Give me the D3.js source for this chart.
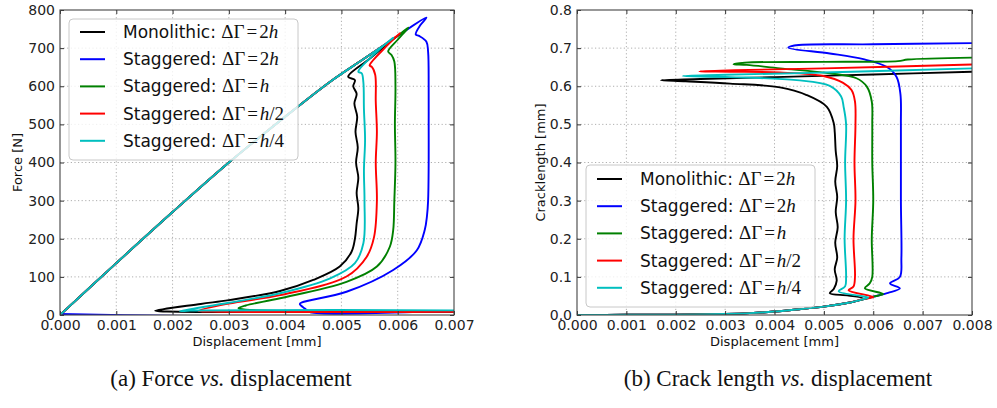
<!DOCTYPE html>
<html><head><meta charset="utf-8">
<script src="https://cdn.jsdelivr.net/npm/d3@7/dist/d3.min.js"></script>
<style>body{margin:0;background:#fff}svg{display:block}</style>
</head><body>
<svg id="c" width="997" height="408"></svg>
<script>
// ---------- data ----------
const seriesLabels = ["Monolithic:", "Staggered:", "Staggered:", "Staggered:", "Staggered:"];
const seriesMath = ["2h", "2h", "h", "h/2", "h/4"];
const seriesColors = ["#000000", "#0000ff", "#008000", "#ff0000", "#00bfbf"];

const forceXTicks = [0, 0.001, 0.002, 0.003, 0.004, 0.005, 0.006, 0.007];
const forceYTicks = [0, 100, 200, 300, 400, 500, 600, 700, 800];
const crackXTicks = [0, 0.001, 0.002, 0.003, 0.004, 0.005, 0.006, 0.007, 0.008];
const crackYTicks = [0, 0.1, 0.2, 0.3, 0.4, 0.5, 0.6, 0.7, 0.8];

const loadPath = [[0,0],[0.001,136],[0.002,270],[0.003,400],[0.004,520],[0.0048,612],[0.0054,672]];

const forceMono = loadPath.concat([[0.00586,717],[0.0055,672],[0.00512,625],[0.00524,616],[0.00521,600],[0.00527,580],[0.00523,555],[0.00528,520],[0.00525,480],[0.00529,440],[0.00526,400],[0.0053,360],[0.00527,320],[0.0053,280],[0.00527,240],[0.00524,200],[0.00518,166],[0.00497,127],[0.0045,92],[0.00391,63],[0.003,39],[0.0025,29],[0.00169,11],[0.0019,9],[0.0075,9]]);
const forceStag2h = loadPath.concat([[0.006,732],[0.00651,780],[0.0064,760],[0.00632,736],[0.00638,732],[0.00651,717],[0.00654,690],[0.00655,600],[0.00655,500],[0.00655,400],[0.00654,300],[0.00652,260],[0.00648,223],[0.00634,170],[0.00592,118],[0.00509,61],[0.0043,33],[0.00426,29],[0.00435,17],[0.00445,7],[0.0075,7],[0.0075,3],[0,3]]);
const forceStagH = loadPath.concat([[0.006,732],[0.00619,754],[0.006,722],[0.00583,691],[0.00589,682],[0.00594,665],[0.00596,600],[0.00595,500],[0.00596,400],[0.00594,300],[0.00592,223],[0.00586,179],[0.00563,127],[0.00509,87],[0.00391,44],[0.0033,25],[0.00317,18],[0.0033,14],[0.0075,11]]);
const forceStagH2 = loadPath.concat([[0.006,734],[0.00604,739],[0.0058,705],[0.0055,654],[0.00554,651],[0.0056,630],[0.00561,560],[0.00563,480],[0.00561,400],[0.00563,300],[0.00558,205],[0.00545,153],[0.00509,101],[0.00391,52],[0.003,30],[0.00246,11],[0.0027,9],[0.0075,9]]);
const forceStagH4 = loadPath.concat([[0.0058,713],[0.00592,727],[0.0057,700],[0.0053,638],[0.00536,634],[0.00539,610],[0.0054,540],[0.00542,460],[0.0054,380],[0.00541,300],[0.00539,188],[0.00524,136],[0.0048,96],[0.00391,57],[0.003,32],[0.00213,10],[0.0024,12],[0.0075,12]]);

const crackBase = [[0,0],[0.001,0.0005],[0.002,0.001],[0.003,0.003],[0.0035,0.005],[0.004,0.009],[0.0045,0.015],[0.005,0.022],[0.0055,0.032]];

const crackMono = crackBase.concat([[0.0058,0.043],[0.0055,0.051],[0.00512,0.057],[0.0052,0.068],[0.00526,0.09],[0.00522,0.12],[0.00527,0.15],[0.00523,0.19],[0.00528,0.23],[0.00524,0.27],[0.00527,0.31],[0.00523,0.35],[0.00527,0.39],[0.00524,0.43],[0.00522,0.48],[0.0052,0.503],[0.00506,0.546],[0.00465,0.577],[0.00411,0.597],[0.0031,0.607],[0.0022,0.613],[0.0017,0.616],[0.0025,0.619],[0.004,0.624],[0.006,0.631],[0.008,0.638]]);
const crackStag2h = crackBase.concat([[0.006,0.048],[0.0063,0.058],[0.00654,0.07],[0.00634,0.083],[0.00654,0.1],[0.00657,0.15],[0.00656,0.3],[0.00656,0.5],[0.00655,0.58],[0.00647,0.625],[0.00627,0.651],[0.0058,0.671],[0.00512,0.686],[0.00428,0.701],[0.0044,0.707],[0.006,0.71],[0.008,0.713]]);
const crackStagH = crackBase.concat([[0.006,0.048],[0.0062,0.055],[0.00583,0.07],[0.00593,0.083],[0.00598,0.1],[0.00597,0.2],[0.006,0.3],[0.00598,0.4],[0.00598,0.5],[0.00597,0.56],[0.00587,0.599],[0.00566,0.621],[0.00512,0.634],[0.00411,0.647],[0.00344,0.656],[0.00317,0.658],[0.0034,0.662],[0.005,0.664],[0.0065,0.666],[0.0067,0.67],[0.008,0.675]]);
const crackStagH2 = crackBase.concat([[0.0058,0.042],[0.006,0.047],[0.0055,0.065],[0.0056,0.075],[0.00563,0.1],[0.0056,0.2],[0.00564,0.3],[0.00562,0.4],[0.00564,0.5],[0.00563,0.56],[0.00556,0.59],[0.00539,0.609],[0.00499,0.627],[0.00411,0.636],[0.0031,0.638],[0.00248,0.639],[0.0032,0.642],[0.005,0.647],[0.008,0.657]]);
const crackStagH4 = crackBase.concat([[0.0058,0.042],[0.0059,0.046],[0.0053,0.062],[0.00543,0.075],[0.00545,0.1],[0.00542,0.2],[0.00545,0.3],[0.00543,0.4],[0.00545,0.5],[0.0054,0.546],[0.00535,0.573],[0.00512,0.601],[0.00445,0.616],[0.0031,0.624],[0.00214,0.627],[0.003,0.63],[0.005,0.636],[0.008,0.647]]);

const forceSeries = [forceMono, forceStag2h, forceStagH, forceStagH2, forceStagH4];
const crackSeries = [crackMono, crackStag2h, crackStagH, crackStagH2, crackStagH4];

// ---------- drawing ----------
const svg = d3.select("#c");
const SANS = "DejaVu Sans, Bitstream Vera Sans, sans-serif";
const SERIF = "Liberation Serif, Times New Roman, serif";

function panel(cfg) {
  const {id, left, right, top, bottom, xDomain, yDomain, xTicks, yTicks, xFmt, yFmt, data, xLabel, yLabel, yLabelX, legend, caption, captionX} = cfg;
  const x = d3.scaleLinear().domain(xDomain).range([left, right]);
  const y = d3.scaleLinear().domain(yDomain).range([bottom, top]);
  const g = svg.append("g");

  // grid
  g.append("g").selectAll("line").data(xTicks.slice(1, -1)).join("line")
    .attr("x1", d => x(d)).attr("x2", d => x(d)).attr("y1", top).attr("y2", bottom)
    .attr("stroke", "#9a9a9a").attr("stroke-width", 0.8).attr("stroke-dasharray", "1.2,2.4");
  g.append("g").selectAll("line").data(yTicks.slice(1, -1)).join("line")
    .attr("y1", d => y(d)).attr("y2", d => y(d)).attr("x1", left).attr("x2", right)
    .attr("stroke", "#9a9a9a").attr("stroke-width", 0.8).attr("stroke-dasharray", "1.2,2.4");

  // clip + lines
  svg.append("clipPath").attr("id", id).append("rect")
    .attr("x", left).attr("y", top).attr("width", right - left).attr("height", bottom - top);
  const line = d3.line().x(d => x(d[0])).y(d => y(d[1])).curve(d3.curveCatmullRom.alpha(0.5));
  g.append("g").attr("clip-path", `url(#${id})`).selectAll("path").data(data).join("path")
    .attr("d", line).attr("fill", "none")
    .attr("stroke", (d, i) => seriesColors[i]).attr("stroke-width", 1.9)
    .attr("stroke-linejoin", "round");

  // axes with inward ticks on all four sides
  const tl = 4;
  const axB = d3.axisBottom(x).tickValues(xTicks).tickFormat(xFmt).tickSizeInner(-tl).tickSizeOuter(0).tickPadding(5);
  const axT = d3.axisTop(x).tickValues(xTicks).tickFormat("").tickSizeInner(-tl).tickSizeOuter(0);
  const axL = d3.axisLeft(y).tickValues(yTicks).tickFormat(yFmt).tickSizeInner(-tl).tickSizeOuter(0).tickPadding(5);
  const axR = d3.axisRight(y).tickValues(yTicks).tickFormat("").tickSizeInner(-tl).tickSizeOuter(0);
  const styleAx = s => {
    s.select(".domain").remove();
    s.selectAll("line").attr("stroke", "#333");
    s.selectAll("text").attr("font-family", SANS).attr("font-size", 14).attr("fill", "#222");
  };
  g.append("g").attr("transform", `translate(0,${bottom})`).call(axB).call(styleAx);
  g.append("g").attr("transform", `translate(0,${top})`).call(axT).call(styleAx);
  g.append("g").attr("transform", `translate(${left},0)`).call(axL).call(styleAx);
  g.append("g").attr("transform", `translate(${right},0)`).call(axR).call(styleAx);
  g.append("rect").attr("x", left).attr("y", top).attr("width", right - left).attr("height", bottom - top)
    .attr("fill", "none").attr("stroke", "#444").attr("stroke-width", 1.1);

  // axis labels
  g.append("text").attr("x", (left + right) / 2).attr("y", bottom + 31).attr("text-anchor", "middle")
    .attr("font-family", SANS).attr("font-size", 13).attr("fill", "#111").text(xLabel);
  g.append("text").attr("transform", `translate(${yLabelX},${(top + bottom) / 2}) rotate(-90)`)
    .attr("text-anchor", "middle").attr("font-family", SANS).attr("font-size", 13).attr("fill", "#111").text(yLabel);

  // legend
  const L = legend;
  const lg = g.append("g");
  lg.append("rect").attr("x", L.x).attr("y", L.y).attr("width", L.w).attr("height", L.h).attr("rx", 4)
    .attr("fill", "#fff").attr("fill-opacity", 0.8).attr("stroke", "#c8c8c8").attr("stroke-width", 1);
  seriesLabels.forEach((lab, i) => {
    const cy = L.y + L.first + i * L.step;
    lg.append("line").attr("x1", L.x + 11).attr("x2", L.x + 36).attr("y1", cy).attr("y2", cy)
      .attr("stroke", seriesColors[i]).attr("stroke-width", 2);
    const t = lg.append("text").attr("x", L.x + 54).attr("y", cy + 6).attr("fill", "#111");
    t.append("tspan").attr("font-family", SANS).attr("font-size", 17).text(lab + " ");
    t.append("tspan").attr("font-family", SERIF).attr("font-size", 19).text("ΔΓ");
    t.append("tspan").attr("font-family", SERIF).attr("font-size", 19).attr("dx", 2).text("=");
    const m = seriesMath[i];
    const num = m.startsWith("2") ? "2" : "";
    const rest = m.startsWith("2") ? m.slice(1) : m;
    if (num) t.append("tspan").attr("font-family", SERIF).attr("font-size", 19).attr("dx", 2).text(num);
    t.append("tspan").attr("font-family", SERIF).attr("font-size", 19).attr("font-style", "italic").attr("dx", num ? 0 : 2).text(rest.charAt(0));
    if (rest.length > 1) t.append("tspan").attr("font-family", SERIF).attr("font-size", 19).text(rest.slice(1));
  });

  // caption
  const c = svg.append("text").attr("x", captionX).attr("y", 386).attr("text-anchor", "middle")
    .attr("font-family", SERIF).attr("font-size", 23).attr("fill", "#111");
  c.append("tspan").text(caption[0]);
  c.append("tspan").attr("font-style", "italic").text(caption[1]);
  c.append("tspan").text(caption[2]);
}

const fmt3 = d3.format(".3f");
panel({
  id: "clipF", left: 60, right: 454, top: 10, bottom: 315,
  xDomain: [0, 0.007], yDomain: [0, 800], xTicks: forceXTicks, yTicks: forceYTicks,
  xFmt: fmt3, yFmt: d3.format("d"), data: forceSeries,
  xLabel: "Displacement [mm]", yLabel: "Force [N]", yLabelX: 22,
  legend: {x: 69, y: 19, w: 229, h: 141, first: 13, step: 27.2},
  caption: ["(a) Force ", "vs.", " displacement"], captionX: 231
});
panel({
  id: "clipC", left: 577, right: 972, top: 10, bottom: 315,
  xDomain: [0, 0.008], yDomain: [0, 0.8], xTicks: crackXTicks, yTicks: crackYTicks,
  xFmt: fmt3, yFmt: d3.format(".1f"), data: crackSeries,
  xLabel: "Displacement [mm]", yLabel: "Cracklength [mm]", yLabelX: 545,
  legend: {x: 586, y: 165, w: 229, h: 142, first: 14, step: 27.2},
  caption: ["(b) Crack length ", "vs.", " displacement"], captionX: 778
});
</script>
</body></html>
